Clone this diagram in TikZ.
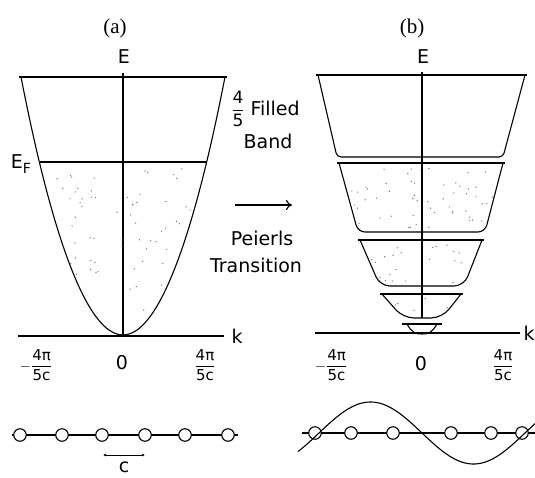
\documentclass[tikz,border=0pt]{standalone}
\usepackage{amsmath}
\usepackage{fontspec}
\setmainfont{DejaVu Sans}
\newfontfamily\panelfont{Liberation Serif}
\usetikzlibrary{arrows.meta}
\begin{document}
\begin{tikzpicture}[x=1pt,y=-1pt,line width=1.1pt,
  lbl/.style={font=\fontsize{19}{21}\selectfont,inner sep=0pt},
  frc/.style={font=\fontsize{15}{17}\selectfont,inner sep=0pt},
  pnl/.style={font=\panelfont\fontsize{21}{23}\selectfont,inner sep=0pt},
  atom/.style={circle,draw,fill=white,minimum size=12.5pt,inner sep=0pt,line width=1.1pt},
  stip/.style={fill=black!55}
]
\useasboundingbox (0,0) rectangle (535,477);

% ---------------- panel (a) ----------------
\node[pnl] (pa) at (115,28) {(a)};
\node[lbl] (Ea) at (124,57) {E};
\draw (19,77) -- (227,77);
\draw (21,77) parabola bend (123,335) (225,77);
\draw (39.5,162) -- (206.5,162);
\draw (123,73) -- (123,337);
\draw (18,336) -- (224,336);
\node[lbl,anchor=west] (ka) at (231,336) {k};
\node[lbl] (EF) at (21,164) {E\raisebox{-5pt}{\fontsize{14}{14}\selectfont F}};
\begin{scope}
  \clip (39.5,162) parabola bend (123,335) (206.5,162) -- cycle;
  \pgfmathsetseed{11}
  \foreach \i in {1,...,75}{
    \pgfmathsetmacro\px{45+150*rnd}
    \pgfmathsetmacro\py{168+150*rnd}
    \fill[stip] (\px,\py) circle (0.7pt);
  }
\end{scope}
\node[frc] (fa1) at (36,365) {\(-\dfrac{\text{4π}}{\text{5c}}\)};
\node[lbl] (za) at (122,363) {0};
\node[frc] (fa2) at (205,365) {\(\dfrac{\text{4π}}{\text{5c}}\)};

% chain (a)
\coordinate (ca0) at (12,435);
\coordinate (ca1) at (238,435);
\draw (ca0) -- (ca1);
\foreach \n/\xx in {1/20,2/62,3/102,4/145,5/185,6/228}{
  \node[atom] (a\n) at (\xx,435) {};
}
\coordinate (cl) at (103,455);
\coordinate (cr) at (145,455);
\draw[line width=0.9pt,{Latex[length=3pt,width=3pt]}-{Latex[length=3pt,width=3pt]}] (cl) -- (cr);
\node[lbl] (clab) at (124,467) {c};

% ---------------- middle ----------------
\node[font=\fontsize{17}{19}\selectfont,inner sep=0pt] (frac45) at (238,109) {\(\dfrac{\text{4}}{\text{5}}\)};
\node[lbl,anchor=west] (filled) at (250,108) {Filled};
\node[lbl] (bandtxt) at (268,141) {Band};
\coordinate (arS) at (235,205);
\coordinate (arE) at (292,205);
\draw[-{To[length=6pt,width=10pt]}] (arS) -- (arE);
\node[lbl] (peierls) at (262,238) {Peierls};
\node[lbl] (trans) at (256,265) {Transition};

% ---------------- panel (b) ----------------
\node[pnl] (pb) at (412,28) {(b)};
\node[lbl] (Eb) at (423,57) {E};
% band 1
\draw (316,75) -- (527,75);
\draw[rounded corners=4pt] (318,75) -- (337,157) -- (503,157) -- (525,75);
% band 2
\draw (337,163) -- (505,163);
\draw[rounded corners=7pt] (339,163) -- (358,232) -- (485,232) -- (503,163);
% band 3
\draw (358,240) -- (484,240);
\draw[rounded corners=10pt] (360,240) -- (380,286) -- (464,286) -- (482,240);
% band 4
\draw (380,294) -- (463,294);
\draw[rounded corners=11pt] (382,294) -- (403,318) -- (442,318) -- (461,294);
% band 5
\draw (402,324) -- (442,324);
\draw (407,324) .. controls (412,333) and (416,334) .. (422,334) .. controls (428,334) and (432,333) .. (437,324);
% stipple in bands 2-4
\pgfmathsetseed{23}
\begin{scope}
  \clip (339,163) -- (358,232) -- (485,232) -- (503,163) -- cycle;
  \foreach \i in {1,...,55}{
    \pgfmathsetmacro\px{350+145*rnd}
    \pgfmathsetmacro\py{168+60*rnd}
    \fill[stip] (\px,\py) circle (0.7pt);
  }
\end{scope}
\begin{scope}
  \clip (360,240) -- (380,286) -- (464,286) -- (482,240) -- cycle;
  \foreach \i in {1,...,22}{
    \pgfmathsetmacro\px{368+105*rnd}
    \pgfmathsetmacro\py{245+38*rnd}
    \fill[stip] (\px,\py) circle (0.7pt);
  }
\end{scope}
\begin{scope}
  \clip (382,294) -- (403,318) -- (442,318) -- (461,294) -- cycle;
  \foreach \i in {1,...,5}{
    \pgfmathsetmacro\px{395+55*rnd}
    \pgfmathsetmacro\py{298+16*rnd}
    \fill[stip] (\px,\py) circle (0.7pt);
  }
\end{scope}
\draw (422,72) -- (422,318);
\draw (315,333) -- (520,333);
\node[lbl,anchor=west] (kb) at (523,333) {k};
\node[frc] (fb1) at (331,365) {\(-\dfrac{\text{4π}}{\text{5c}}\)};
\node[lbl] (zb) at (421,364) {0};
\node[frc] (fb2) at (503,365) {\(\dfrac{\text{4π}}{\text{5c}}\)};

% chain (b)
\coordinate (cb0) at (302,433);
\coordinate (cb1) at (535,433);
\draw (cb0) -- (cb1);
\foreach \n/\xx in {1/315,2/351,3/393,4/451,5/491,6/522}{
  \node[atom] (b\n) at (\xx,433) {};
}
\draw plot[domain=298:542,samples=140,smooth] (\x,{433-31*sin(1.7476*(\x-319))});
\end{tikzpicture}
\end{document}
